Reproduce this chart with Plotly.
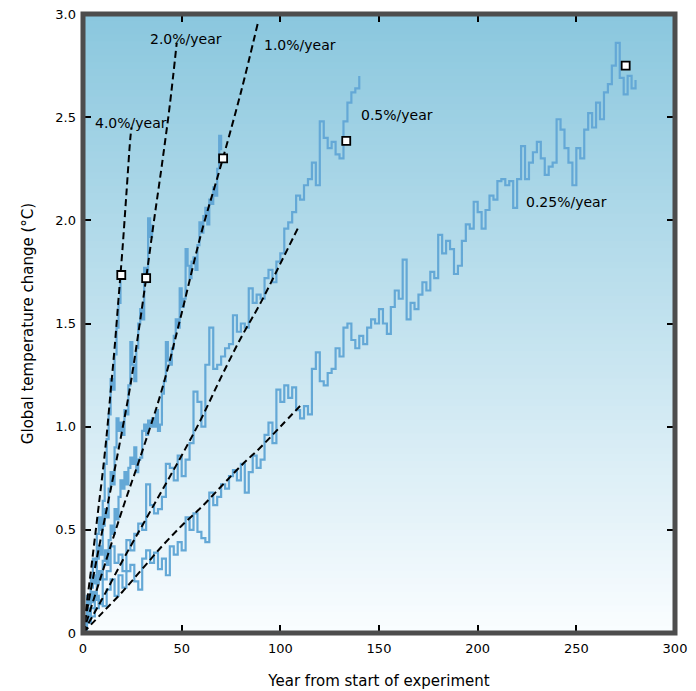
import plotly.graph_objects as go

# ---------------- data ----------------
# Model runs (blue, noisy) -- annual-mean global temperature change
run_025_step = 2  # years between values
run_025 = [
    0.00, 0.05, 0.08, 0.12, 0.16, 0.13, 0.21, 0.26, 0.18, 0.28,
    0.22, 0.30, 0.33, 0.25, 0.21, 0.36, 0.40, 0.34, 0.39, 0.31,
    0.36, 0.28, 0.42, 0.38, 0.44, 0.40, 0.56, 0.50, 0.58, 0.49,
    0.46, 0.44, 0.68, 0.62, 0.66, 0.72, 0.70, 0.76, 0.79, 0.74,
    0.82, 0.68, 0.78, 0.86, 0.80, 0.84, 0.96, 1.02, 0.92, 1.18,
    1.12, 1.20, 1.14, 1.19, 1.08, 1.04, 1.10, 1.06, 1.28, 1.36,
    1.22, 1.20, 1.26, 1.28, 1.38, 1.34, 1.48, 1.50, 1.42, 1.38,
    1.44, 1.40, 1.48, 1.52, 1.50, 1.57, 1.50, 1.45, 1.58, 1.66,
    1.62, 1.81, 1.52, 1.60, 1.57, 1.64, 1.70, 1.66, 1.75, 1.72,
    1.93, 1.84, 1.90, 1.86, 1.74, 1.78, 1.90, 1.98, 1.96, 2.09,
    2.04, 1.96, 2.05, 2.12, 2.10, 2.19, 2.20, 2.17, 2.19, 2.06,
    2.20, 2.36, 2.20, 2.28, 2.33, 2.38, 2.30, 2.22, 2.26, 2.28,
    2.49, 2.44, 2.35, 2.28, 2.17, 2.35, 2.30, 2.44, 2.52, 2.45,
    2.57, 2.49, 2.62, 2.66, 2.75, 2.86, 2.69, 2.61, 2.70, 2.64,
    2.68,
]
run_05_step = 2
run_05 = [
    0.00, 0.06, 0.12, 0.18, 0.14, 0.26, 0.30, 0.42, 0.34, 0.38,
    0.30, 0.45, 0.40, 0.48, 0.53, 0.50, 0.72, 0.62, 0.58, 0.60,
    0.66, 0.82, 0.80, 0.74, 0.86, 0.76, 0.84, 0.92, 1.17, 1.12,
    1.00, 1.30, 1.48, 1.28, 1.30, 1.34, 1.38, 1.40, 1.54, 1.46,
    1.50, 1.48, 1.67, 1.60, 1.64, 1.62, 1.72, 1.76, 1.70, 1.80,
    1.84, 1.96, 1.99, 2.04, 2.12, 2.10, 2.17, 2.20, 2.28, 2.17,
    2.48, 2.40, 2.35, 2.38, 2.32, 2.30, 2.48, 2.57, 2.62, 2.64,
    2.70,
]
run_1_step = 1
run_1 = [
    0.00, 0.04, 0.09, 0.06, 0.15, 0.20, 0.16, 0.24, 0.30, 0.26,
    0.35, 0.40, 0.33, 0.45, 0.52, 0.48, 0.60, 0.55, 0.66, 0.74,
    0.70, 0.78, 0.72, 0.80, 0.85, 0.82, 0.90, 0.78, 0.84, 0.85,
    0.98, 1.01, 0.96, 1.03, 1.00, 1.04, 1.00, 1.08, 0.98, 1.01,
    1.16, 1.22, 1.41, 1.32, 1.30, 1.38, 1.44, 1.52, 1.48, 1.67,
    1.58, 1.62, 1.86, 1.78, 1.72, 1.80, 1.82, 1.76, 1.88, 1.99,
    1.94, 2.02, 2.06, 1.98, 2.10, 2.08, 2.16, 2.12, 2.25, 2.41,
    2.34,
]
run_2_step = 1
run_2 = [
    0.00, 0.06, 0.12, 0.10, 0.22, 0.28, 0.24, 0.36, 0.42, 0.38,
    0.52, 0.60, 0.56, 0.70, 0.78, 0.72, 0.90, 1.04, 0.98, 1.02,
    0.96, 1.08, 1.06, 1.20, 1.41, 1.30, 1.22, 1.38, 1.50, 1.57,
    1.52, 1.77, 1.70, 2.01, 1.92, 1.98,
]
run_4_step = 1
run_4 = [
    0.00, 0.08, 0.18, 0.14, 0.28, 0.36, 0.32, 0.48, 0.56, 0.50,
    0.64, 0.82, 0.94, 1.06, 1.23, 1.18, 1.35, 1.48, 1.60, 1.72,
]

# Smooth (dashed) curves
fit_4_x = [0, 2, 4, 6, 8, 10, 12, 14, 16, 18, 20, 22, 24, 24.6]
fit_4_y = [0, 0.15, 0.30, 0.46, 0.62, 0.78, 0.96, 1.17, 1.38, 1.62, 1.86, 2.13, 2.40, 2.45]
fit_2_x = [0, 4, 8, 12, 16, 20, 24, 28, 32, 36, 40, 44, 47.5]
fit_2_y = [0, 0.21, 0.41, 0.60, 0.79, 0.99, 1.20, 1.45, 1.72, 2.00, 2.27, 2.56, 2.86]
fit_1_x = [0, 10, 20, 30, 40, 50, 60, 70, 80, 88.7]
fit_1_y = [0, 0.30, 0.60, 0.88, 1.18, 1.55, 1.94, 2.27, 2.62, 2.96]
fit_05_x = [0, 10, 20, 30, 40, 50, 60, 70, 80, 90, 100, 108.8]
fit_05_y = [0, 0.17, 0.35, 0.52, 0.69, 0.86, 1.04, 1.24, 1.43, 1.60, 1.79, 1.96]
fit_025_x = [0, 10, 20, 30, 40, 50, 60, 70, 80, 90, 100, 110]
fit_025_y = [0, 0.10, 0.20, 0.31, 0.42, 0.52, 0.61, 0.71, 0.81, 0.90, 1.00, 1.10]

# Square markers
marker_x = [19.4, 32.0, 71.0, 133.4, 275.0]
marker_y = [1.735, 1.72, 2.30, 2.385, 2.75]

# Curve labels
label_text = ["4.0%/year", "2.0%/year", "1.0%/year", "0.5%/year", "0.25%/year"]
label_x = [5.0, 33.0, 90.5, 140.0, 223.6]
label_y = [2.47, 2.88, 2.85, 2.51, 2.09]

# Axis ticks
x_ticks = [0, 50, 100, 150, 200, 250, 300]
x_tick_text = ["0", "50", "100", "150", "200", "250", "300"]
y_ticks = [0, 0.5, 1.0, 1.5, 2.0, 2.5, 2.999]
y_tick_text = ["0", "0.5", "1.0", "1.5", "2.0", "2.5", "3.0"]

# ---------------- figure ----------------
FONT = "DejaVu Sans"
BLUE = "#64a8d6"

fig = go.Figure()

runs = [(run_025, run_025_step), (run_05, run_05_step), (run_1, run_1_step),
        (run_2, run_2_step), (run_4, run_4_step)]
for vals, step in runs:
    fig.add_trace(go.Scatter(
        x=[i * step for i in range(len(vals))], y=vals, mode="lines",
        line=dict(color=BLUE, width=2.2, shape="hv"), hoverinfo="skip",
        showlegend=False))

fits = [(fit_025_x, fit_025_y), (fit_05_x, fit_05_y), (fit_1_x, fit_1_y),
        (fit_2_x, fit_2_y), (fit_4_x, fit_4_y)]
for fx, fy in fits:
    fig.add_trace(go.Scatter(
        x=fx, y=fy, mode="lines",
        line=dict(color="black", width=2, dash="7px,4px", shape="spline"),
        hoverinfo="skip", showlegend=False))

fig.add_trace(go.Scatter(
    x=marker_x, y=marker_y, mode="markers",
    marker=dict(symbol="square", size=8, color="white",
                line=dict(color="black", width=1.8)),
    hoverinfo="skip", showlegend=False))

for t, lx, ly in zip(label_text, label_x, label_y):
    fig.add_annotation(x=lx, y=ly, text=t, showarrow=False, xanchor="left",
                       yanchor="middle", font=dict(family=FONT, size=14, color="black"))

# background gradient (blue at top -> white at bottom)
shapes = []
N = 90
top = (138, 199, 222)
bot = (250, 253, 255)
for i in range(N):
    f = (i + 0.5) / N
    c = tuple(int(round(bot[k] + (top[k] - bot[k]) * f)) for k in range(3))
    shapes.append(dict(type="rect", xref="paper", yref="paper", x0=0, x1=1,
                       y0=i / N, y1=(i + 1) / N + 0.002, line=dict(width=0),
                       fillcolor="rgb(%d,%d,%d)" % c, layer="below"))
# thick frame
shapes.append(dict(type="rect", xref="paper", yref="paper", x0=0, x1=1, y0=0, y1=1,
                   line=dict(color="#4d4d4d", width=5), layer="above"))

# page body has an 8px margin, so the figure is 8px smaller than the window
fig.update_layout(
    width=688, height=683,
    margin=dict(l=75, r=21, t=6, b=58, autoexpand=False),
    paper_bgcolor="white", plot_bgcolor="white",
    shapes=shapes,
    font=dict(family=FONT, size=14, color="black"),
    xaxis=dict(range=[0, 300], tickvals=x_ticks, ticktext=x_tick_text,
               ticks="inside", ticklen=8, tickwidth=2, tickcolor="black",
               mirror="ticks", showgrid=False, zeroline=False, showline=False,
               automargin=False, ticklabelstandoff=6, ticklabeloverflow="allow",
               title=dict(text="Year from start of experiment",
                          font=dict(family=FONT, size=15), standoff=20),
               tickfont=dict(family=FONT, size=13)),
    yaxis=dict(range=[0, 3], tickvals=y_ticks, ticktext=y_tick_text,
               ticks="inside", ticklen=8, tickwidth=2, tickcolor="black",
               mirror="ticks", showgrid=False, zeroline=False, showline=False,
               automargin=False, ticklabelstandoff=6, ticklabeloverflow="allow",
               title=dict(text="Global temperature change (°C)",
                          font=dict(family=FONT, size=15), standoff=18),
               tickfont=dict(family=FONT, size=13)),
)

fig.write_html("out.html")
